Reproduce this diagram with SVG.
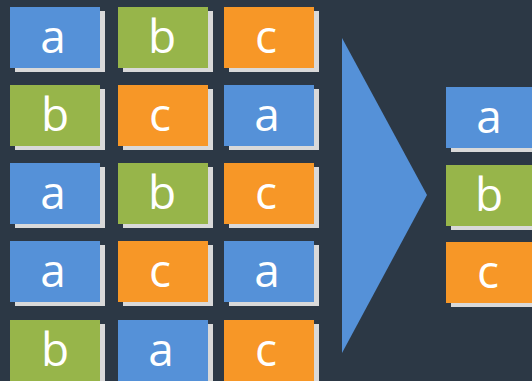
<svg xmlns="http://www.w3.org/2000/svg" width="532" height="381" viewBox="0 0 532 381">
<style>
.sh{fill:#d9d9d9}
.a{fill:#5591d8}
.b{fill:#97b54a}
.c{fill:#f79727}
text{font-family:"Open Sans","Noto Sans",sans-serif;font-size:46px;fill:#fff;text-anchor:middle}
</style>
<rect width="532" height="381" fill="#2c3845"/>
<g id="n1"><rect class="sh" x="15" y="11" width="90" height="61"/><rect class="a" x="10" y="7" width="90" height="61"/><text x="53" y="53">a</text></g>
<g id="n2"><rect class="sh" x="123" y="11" width="90" height="61"/><rect class="b" x="118" y="7" width="90" height="61"/><text x="162" y="53">b</text></g>
<g id="n3"><rect class="sh" x="229" y="11" width="90" height="61"/><rect class="c" x="224" y="7" width="90" height="61"/><text x="266" y="53">c</text></g>
<g id="n4"><rect class="sh" x="15" y="89" width="90" height="61"/><rect class="b" x="10" y="85" width="90" height="61"/><text x="55" y="131">b</text></g>
<g id="n5"><rect class="sh" x="123" y="89" width="90" height="61"/><rect class="c" x="118" y="85" width="90" height="61"/><text x="160" y="131">c</text></g>
<g id="n6"><rect class="sh" x="229" y="89" width="90" height="61"/><rect class="a" x="224" y="85" width="90" height="61"/><text x="267" y="131">a</text></g>
<g id="n7"><rect class="sh" x="15" y="167" width="90" height="61"/><rect class="a" x="10" y="163" width="90" height="61"/><text x="53" y="209">a</text></g>
<g id="n8"><rect class="sh" x="123" y="167" width="90" height="61"/><rect class="b" x="118" y="163" width="90" height="61"/><text x="162" y="209">b</text></g>
<g id="n9"><rect class="sh" x="229" y="167" width="90" height="61"/><rect class="c" x="224" y="163" width="90" height="61"/><text x="266" y="209">c</text></g>
<g id="n10"><rect class="sh" x="15" y="245" width="90" height="61"/><rect class="a" x="10" y="241" width="90" height="61"/><text x="53" y="287">a</text></g>
<g id="n11"><rect class="sh" x="123" y="245" width="90" height="61"/><rect class="c" x="118" y="241" width="90" height="61"/><text x="160" y="287">c</text></g>
<g id="n12"><rect class="sh" x="229" y="245" width="90" height="61"/><rect class="a" x="224" y="241" width="90" height="61"/><text x="267" y="287">a</text></g>
<g id="n13"><rect class="sh" x="15" y="324" width="90" height="61"/><rect class="b" x="10" y="320" width="90" height="61"/><text x="55" y="366">b</text></g>
<g id="n14"><rect class="sh" x="123" y="324" width="90" height="61"/><rect class="a" x="118" y="320" width="90" height="61"/><text x="161" y="366">a</text></g>
<g id="n15"><rect class="sh" x="229" y="324" width="90" height="61"/><rect class="c" x="224" y="320" width="90" height="61"/><text x="266" y="366">c</text></g>
<g id="connectors"><polygon points="342,38 427,195 342,353" fill="#5591d8"/></g>
<g id="r1"><rect class="sh" x="451" y="91" width="90" height="61"/><rect class="a" x="446" y="87" width="90" height="61"/><text x="489" y="133">a</text></g>
<g id="r2"><rect class="sh" x="451" y="169" width="90" height="61"/><rect class="b" x="446" y="165" width="90" height="61"/><text x="489" y="211">b</text></g>
<g id="r3"><rect class="sh" x="451" y="246" width="90" height="61"/><rect class="c" x="446" y="242" width="90" height="61"/><text x="488" y="288">c</text></g>
</svg>
